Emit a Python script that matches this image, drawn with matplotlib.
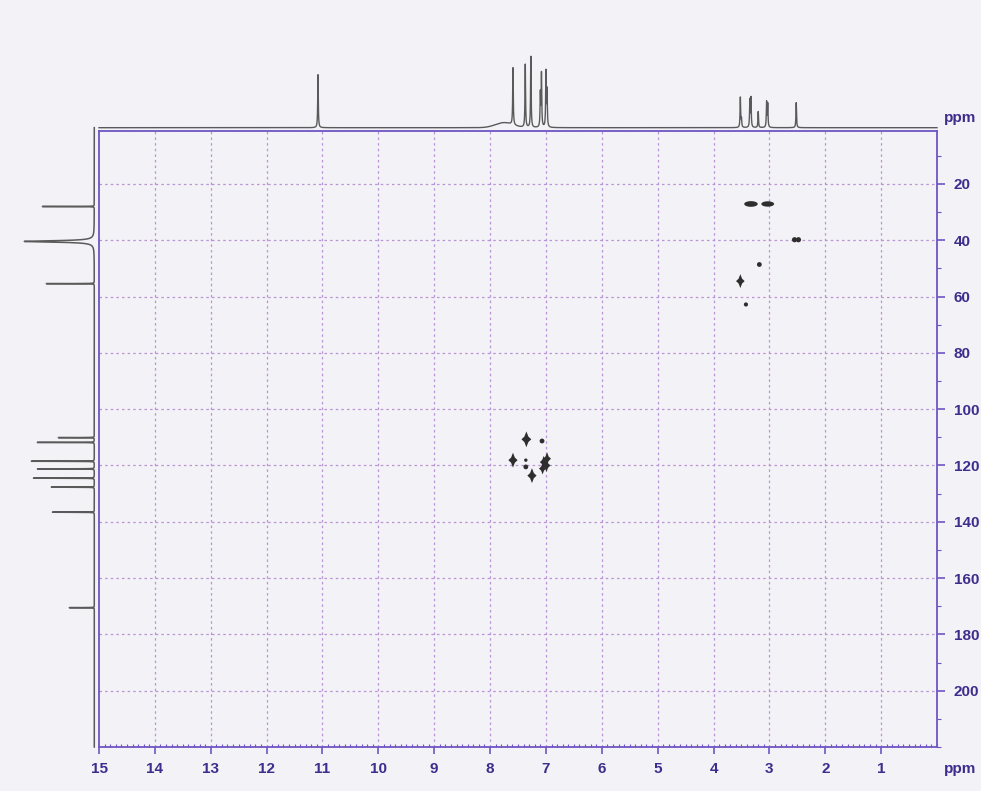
import numpy as np
import matplotlib
matplotlib.use("Agg")
import matplotlib.pyplot as plt
from matplotlib.path import Path
from matplotlib.ticker import MultipleLocator, FixedLocator

# ---------------- data ----------------
# 1H projection (top): positions (ppm) and intensities
h_shift = [11.08, 7.59, 7.37, 7.27, 7.10, 7.08, 7.00, 6.98, 3.52, 3.50, 3.35, 3.33, 3.20, 3.05, 3.03, 2.52]
h_int = [53, 57, 63, 71, 33, 53, 55, 36, 30, 8, 27, 29, 16, 25, 23, 25]
h_hump_center = 7.75
h_hump_height = 5

# 13C projection (left): positions (ppm) and intensities
c_shift = [28.0, 40.4, 55.4, 110.1, 111.8, 118.5, 121.2, 124.5, 127.7, 136.6, 170.5]
c_int = [52, 70, 48, 36, 57, 63, 57, 61, 43, 42, 25]

# HSQC cross peaks: 1H shift, 13C shift, size, shape
cp_h = [7.35, 7.07, 7.59, 7.36, 7.36, 7.25, 6.98, 7.04, 6.99, 7.06,
        3.33, 3.03, 2.55, 2.48, 3.18, 3.52, 3.42]
cp_c = [110.7, 111.3, 118.1, 118.1, 120.5, 123.6, 117.6, 118.8, 120.0, 121.1,
        27.1, 27.1, 39.8, 39.8, 48.6, 54.5, 62.8]
cp_size = [130, 12, 115, 6, 12, 115, 85, 80, 85, 70,
           95, 85, 14, 14, 12, 100, 9]
cp_shape = ["d", "o", "d", "o", "o", "d", "d", "d", "d", "d",
            "h", "h", "o", "o", "o", "d", "o"]

x_ticks = [15, 14, 13, 12, 11, 10, 9, 8, 7, 6, 5, 4, 3, 2, 1]
y_ticks = [20, 40, 60, 80, 100, 120, 140, 160, 180, 200]

# ---------------- style ----------------
W, H = 981, 791
BG = "#f3f2f7"
AXC = "#6f55c4"
LBL = "#3e2d8c"
GRID = "#b894d6"
SPEC = "#5a5a5a"
PEAK = "#2e2e2e"
plt.rcParams["font.family"] = ["Liberation Sans", "DejaVu Sans"]

fig = plt.figure(figsize=(W / 100, H / 100), dpi=100, facecolor=BG)


def px(l, t, r, b):
    return [l / W, 1 - b / H, (r - l) / W, (b - t) / H]


# ---------------- main 2D axes ----------------
ax = fig.add_axes(px(99, 130.5, 937, 747))
ax.set_facecolor(BG)
ax.set_xlim(15, 0)
ax.set_ylim(220, 1)
for s in ax.spines.values():
    s.set_color(AXC)
    s.set_linewidth(1.3)

ax.xaxis.set_major_locator(FixedLocator(x_ticks))
ax.xaxis.set_minor_locator(MultipleLocator(0.1))
ax.yaxis.set_major_locator(FixedLocator(y_ticks))
ax.yaxis.set_minor_locator(MultipleLocator(10))
ax.yaxis.tick_right()
ax.set_xticklabels([str(t) for t in x_ticks])
ax.set_yticklabels([str(t) for t in y_ticks])
ax.tick_params(axis="x", which="major", direction="out", length=5, width=1.2,
               color=AXC, labelcolor=LBL, labelsize=11, pad=6)
ax.tick_params(axis="x", which="minor", direction="in", length=2.5, width=0.8,
               color=AXC)
ax.tick_params(axis="y", which="major", direction="out", length=6, width=1.2,
               color=AXC, labelcolor=LBL, labelsize=11, pad=6)
ax.tick_params(axis="y", which="minor", direction="out", length=3, width=0.8,
               color=AXC)
for lab in ax.get_xticklabels() + ax.get_yticklabels():
    lab.set_fontweight("bold")

for t in x_ticks[1:]:
    ax.axvline(t, color=GRID, lw=0.9, ls=(0, (2, 2.5)), zorder=0)
for t in y_ticks:
    ax.axhline(t, color=GRID, lw=0.9, ls=(0, (2, 2.5)), zorder=0)

# cross peak markers
diamond = Path([(0, 1.0), (0.25, 0.35), (0.62, 0.0), (0.25, -0.35), (0, -1.0),
                (-0.25, -0.35), (-0.62, 0.0), (-0.25, 0.35), (0, 1.0)],
               closed=True)
ang = np.linspace(0, 2 * np.pi, 40)
hblob = Path(np.column_stack([np.cos(ang), 0.42 * np.sin(ang)]), closed=True)
markers = {"d": diamond, "o": "o", "h": hblob}
for shp in ["d", "o", "h"]:
    idx = [i for i, s in enumerate(cp_shape) if s == shp]
    ax.scatter([cp_h[i] for i in idx], [cp_c[i] for i in idx],
               s=[cp_size[i] for i in idx], marker=markers[shp],
               color=PEAK, linewidths=0, zorder=3)

# ---------------- top 1H projection ----------------
axt = fig.add_axes(px(99, 47.7, 937, 127.7))
axt.set_xlim(15, 0)
axt.set_ylim(0, 80)
axt.axis("off")
xg = np.linspace(15, 0, 30001)
spec_h = np.zeros_like(xg)
for p, a in zip(h_shift, h_int):
    w = 0.006
    spec_h += a * w ** 2 / ((xg - p) ** 2 + w ** 2)
spec_h += h_hump_height * np.exp(-((xg - h_hump_center) / 0.22) ** 2)
axt.plot(xg, spec_h, color=SPEC, lw=1.0, clip_on=False)

# ---------------- left 13C projection ----------------
axl = fig.add_axes(px(18, 130.5, 94.3, 747))
axl.set_xlim(76.3, 0)
axl.set_ylim(220, 1)
axl.axis("off")
yg = np.linspace(0, 220, 60001)
spec_c = np.zeros_like(yg)
for p, a in zip(c_shift, c_int):
    w = 0.3 if a >= 70 else 0.03
    spec_c += a * w ** 2 / ((yg - p) ** 2 + w ** 2)
axl.plot(spec_c, yg, color=SPEC, lw=1.1, clip_on=False)

# ---------------- unit labels ----------------
fig.text(944 / W, 1 - 118 / H, "ppm", color=LBL, fontsize=11,
         fontweight="bold", ha="left", va="center")
fig.text(944 / W, 1 - 769 / H, "ppm", color=LBL, fontsize=11,
         fontweight="bold", ha="left", va="center")

fig.savefig("out.png", dpi=100, facecolor=BG)
